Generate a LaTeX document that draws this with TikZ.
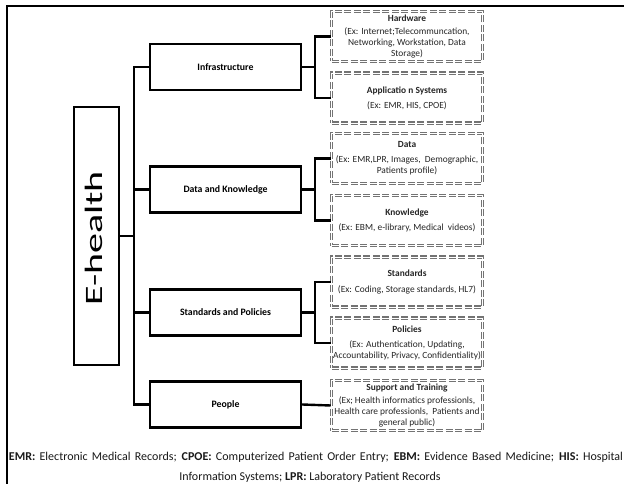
\documentclass[tikz,border=0pt]{standalone}
\usepackage{fontspec}
\setmainfont{Carlito}
\begin{document}
\begin{tikzpicture}[x=1pt,y=-1pt,
  solidbox/.style={draw, line width=2.4pt, minimum width=151pt, minimum height=46pt, inner sep=0pt,
    font=\fontsize{9.8}{11}\selectfont\bfseries},
  dbox/.style={draw=black!55, line width=1.5pt, double=white, double distance=0.7pt,
    dash pattern=on 7pt off 2.5pt, minimum width=151pt, minimum height=50pt, inner sep=0pt,
    align=center, font=\fontsize{9.4}{11.3}\selectfont, text=black!85},
  conn/.style={line width=2.4pt},
  foot/.style={inner sep=0pt, font=\fontsize{12}{14}\selectfont, text=black!90}]
\useasboundingbox (0,0) rectangle (624,484);
\fill[white] (0,0) rectangle (624,484);
% frame
\draw[line width=1.5pt] (7,484) -- (7,6) -- (624,6);
% root
\node[solidbox, minimum width=45pt, minimum height=258pt] (eh) at (96.5,236) {};
\node[rotate=90, inner sep=0pt, font=\fontsize{25}{25}\selectfont] (ehl) at (94,238.5) {\scalebox{1.6}[1]{E-health}};
% level 1
\node[solidbox] (infra) at (225.5,67) {Infrastructure};
\node[solidbox] (dk) at (225.5,189.5) {Data and Knowledge};
\node[solidbox] (sp) at (225.5,312.5) {Standards and Policies};
\node[solidbox] (ppl) at (225.5,404.5) {People};
% level 2
\node[dbox] (hw) at (407,36.5) {\textbf{Hardware}\\[2pt](Ex: Internet;Telecommuncation,\\Networking, Workstation, Data\\Storage)};
\node[dbox] (app) at (407,98) {\textbf{Applicatio n Systems}\\[4pt](Ex: EMR, HIS, CPOE)};
\node[dbox] (data) at (407,158.5) {\textbf{Data}\\[3pt](Ex: EMR,LPR, Images,~ Demographic,\\Patients profile)};
\node[dbox] (know) at (407,220.5) {\textbf{Knowledge}\\[4pt](Ex: EBM, e-library, Medical~ videos)};
\node[dbox] (std) at (407,282) {\textbf{Standards}\\[4pt](Ex: Coding, Storage standards, HL7)};
\node[dbox] (pol) at (407,343) {\textbf{Policies}\\[3pt](Ex: Authentication, Updating,\\Accountability, Privacy, Confidentiality)};
\node[dbox] (sup) at (407,405.5) {\textbf{Support and Training}\\[2pt](Ex; Health informatics professionls,\\Health care professionls,~ Patients and\\general public)};
% trunk
\coordinate (tt) at (134,67);
\coordinate (tb) at (134,404.5);
\draw[conn] (infra.west) -- (tt) -- (tb) -- (ppl.west);
\draw[conn] (dk.west) -- (dk.west -| tt);
\draw[conn] (sp.west) -- (sp.west -| tt);
\draw[conn] (eh.east) -- (eh.east -| tt);
% brackets
\coordinate (j1) at (315,67);
\coordinate (j2) at (315,189.5);
\coordinate (j3) at (315,312.5);
\draw[conn] (infra.east) -- (j1);
\draw[conn] (hw.west) -| (j1) |- (app.west);
\draw[conn] (dk.east) -- (j2);
\draw[conn] (data.west) -| (j2) |- (know.west);
\draw[conn] (sp.east) -- (j3);
\draw[conn] (std.west) -| (j3) |- (pol.west);
\draw[conn] (ppl.east) -- (sup.west);
% footer
\node[foot] (f1) at (316,457) {\makebox[614pt][s]{\textbf{EMR:} Electronic Medical Records; \textbf{CPOE:} Computerized Patient Order Entry; \textbf{EBM:} Evidence Based Medicine; \textbf{HIS:} Hospital}};
\node[foot] (f2) at (310,477) {Information Systems; \textbf{LPR:} Laboratory Patient Records};
\end{tikzpicture}
\end{document}
